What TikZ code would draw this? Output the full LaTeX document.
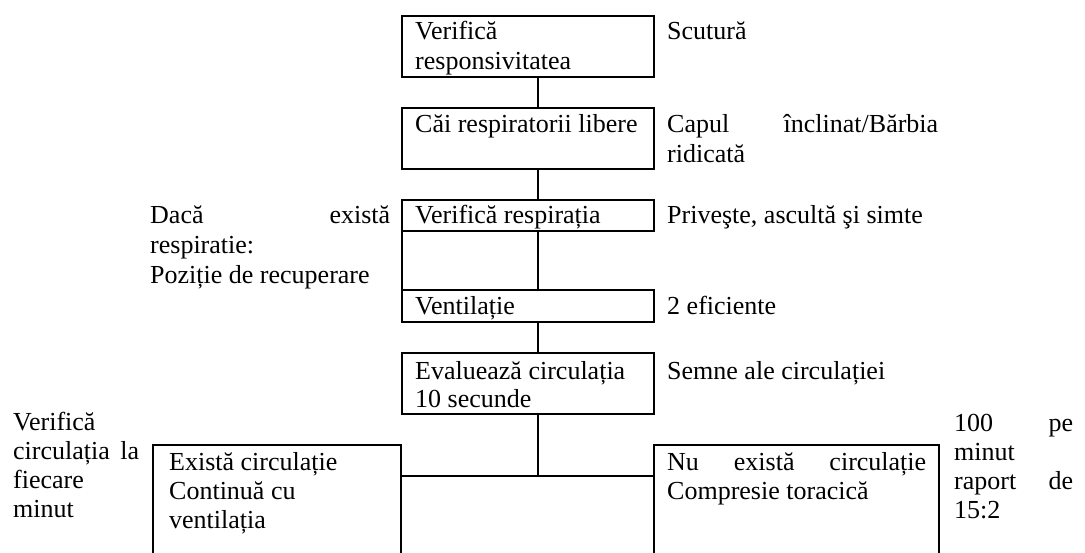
\documentclass[tikz,border=0pt]{standalone}
\usepackage{fontspec}
\setmainfont{Liberation Serif}
\begin{document}
\begin{tikzpicture}[x=1pt,y=-1pt,
  box/.style={draw, line width=1.8pt, rectangle, inner sep=0pt, outer sep=0pt, anchor=north west},
  txt/.style={anchor=base west, inner sep=0pt, font=\fontsize{26}{30}\selectfont},
  conn/.style={line width=1.8pt}]
\useasboundingbox (0,0) rectangle (1085,552);
\clip (0,0) rectangle (1085,552);
% spine
\coordinate (spine) at (538,0);
% boxes
\node[box, minimum width=252pt, minimum height=61pt] (b1) at (402,16) {};
\node[box, minimum width=252pt, minimum height=61pt] (b2) at (402,108) {};
\node[box, minimum width=252pt, minimum height=31pt] (b3) at (402,200) {};
\node[box, minimum width=252pt, minimum height=32pt] (b4) at (402,290) {};
\node[box, minimum width=252pt, minimum height=61pt] (b5) at (402,353) {};
\node[box, minimum width=248pt, minimum height=140pt] (b6) at (153,445) {};
\node[box, minimum width=285pt, minimum height=140pt] (b7) at (654,445) {};
\coordinate (j) at (538,476);
% connectors
\draw[conn] (b1.south -| spine) -- (b2.north -| spine);
\draw[conn] (b2.south -| spine) -- (b3.north -| spine);
\draw[conn] (b3.south -| spine) -- (b4.north -| spine);
\draw[conn] (b3.south west) -- (b4.north west);
\draw[conn] (b4.south -| spine) -- (b5.north -| spine);
\draw[conn] (b5.south -| spine) -- (j);
\draw[conn] (b6.east |- j) -- (b7.west |- j);
% box texts
\node[txt] (t1a) at (415,39) {Verifică};
\node[txt] (t1b) at (415,69.5) {responsivitatea};
\node[txt] (t2) at (415,132) {Căi respiratorii libere};
\node[txt] (t3) at (415,223) {Verifică respirația};
\node[txt] (t4) at (415,314) {Ventilație};
\node[txt] (t5a) at (415,379) {Evaluează circulația};
\node[txt] (t5b) at (415,407) {10 secunde};
\node[txt] (t6a) at (169,470) {Există circulație};
\node[txt] (t6b) at (169,499) {Continuă cu};
\node[txt] (t6c) at (169,528) {ventilația};
\node[txt] (t7a) at (667,470) {\makebox[259pt][s]{Nu există circulație}};
\node[txt] (t7b) at (667,499) {Compresie toracică};
% right column
\node[txt] (r1) at (667,39) {Scutură};
\node[txt] (r2a) at (667,132) {\makebox[271pt][s]{Capul înclinat/Bărbia}};
\node[txt] (r2b) at (667,162) {ridicată};
\node[txt] (r3) at (667,223) {Priveşte, ascultă şi simte};
\node[txt] (r4) at (667,314) {2 eficiente};
\node[txt] (r5) at (667,379) {Semne ale circulației};
% left column
\node[txt] (l1a) at (150,223) {\makebox[240pt][s]{Dacă există}};
\node[txt] (l1b) at (150,253) {respiratie:};
\node[txt] (l1c) at (150,283) {Poziție de recuperare};
% bottom left
\node[txt] (bl1) at (13,430) {Verifică};
\node[txt] (bl2) at (13,459.5) {\makebox[126pt][s]{circulația la}};
\node[txt] (bl3) at (13,488) {fiecare};
\node[txt] (bl4) at (13,517.5) {minut};
% bottom right
\node[txt] (br1) at (954,431) {\makebox[119pt][s]{100 pe}};
\node[txt] (br2) at (954,460) {minut};
\node[txt] (br3) at (954,489) {\makebox[119pt][s]{raport de}};
\node[txt] (br4) at (954,518) {15:2};
\end{tikzpicture}
\end{document}
